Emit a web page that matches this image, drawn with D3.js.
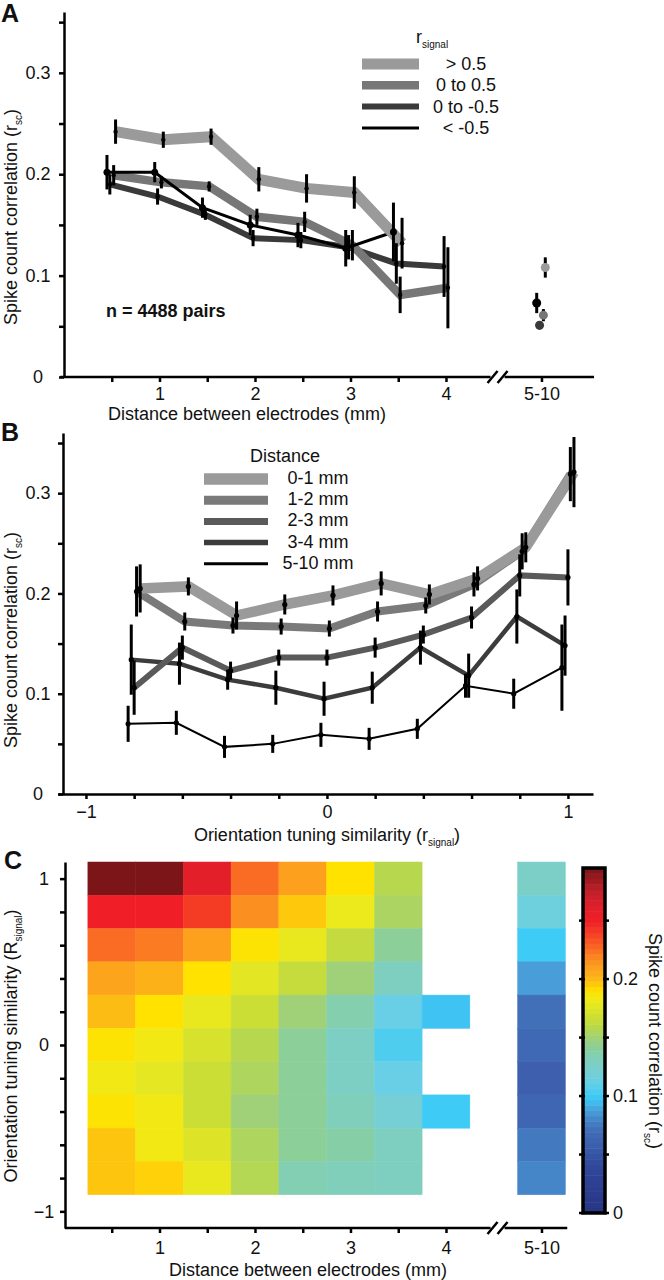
<!DOCTYPE html>
<html><head><meta charset="utf-8">
<script src="https://cdn.jsdelivr.net/npm/d3@7"></script>
<style>
body{margin:0;background:#fff;}
text{font-family:"Liberation Sans",Arial,Helvetica,sans-serif;fill:#111;}
</style></head><body>
<svg id="chart" width="664" height="1280"></svg>
<script>
// ================= DATA =================
// Panel A: rsc vs distance, grouped by r_signal
const distA = [0.5, 1, 1.5, 2, 2.5, 3, 3.5, 4];
const groupsA = ["> 0.5", "0 to 0.5", "0 to -0.5", "< -0.5"];
const rscA_high = [0.242, 0.234, 0.237, 0.195, 0.186, 0.182, 0.132, null];
const errA_high = [0.012, 0.008, 0.008, 0.012, 0.014, 0.016, 0.025, null];
const rscA_pos  = [0.199, 0.192, 0.188, 0.158, 0.153, 0.130, 0.081, 0.088];
const errA_pos  = [0.010, 0.006, 0.005, 0.008, 0.010, 0.015, 0.018, 0.040];
const rscA_neg  = [0.190, 0.178, 0.160, 0.137, 0.135, 0.128, 0.112, 0.109];
const errA_neg  = [0.010, 0.008, 0.005, 0.008, 0.008, 0.012, 0.020, 0.030];
const rscA_low  = [0.202, 0.202, 0.167, 0.150, 0.140, 0.127, 0.143, null];
const errA_low  = [0.017, 0.010, 0.010, 0.010, 0.012, 0.018, 0.029, null];
const farA      = [0.108, 0.061, 0.051, 0.073];   // 5-10 mm
const farErrA   = [0.010, 0.006, 0.004, 0.010];
const xTicksA   = [0.5, 1, 1.5, 2, 2.5, 3, 3.5, 4, 5];
const xLabelsA  = {1: "1", 2: "2", 3: "3", 4: "4", 5: "5-10"};
const yTicksRsc = [0, 0.05, 0.1, 0.15, 0.2, 0.25, 0.3, 0.35];
const yLabelsRsc = {"0": "0", "0.1": "0.1", "0.2": "0.2", "0.3": "0.3"};

// Panel B: rsc vs r_signal, grouped by distance
const rsigB = [-0.8, -0.6, -0.4, -0.2, 0, 0.2, 0.4, 0.6, 0.8, 1.0];
const groupsB = ["0-1 mm", "1-2 mm", "2-3 mm", "3-4 mm", "5-10 mm"];
const rscB_01  = [0.205, 0.207, 0.178, 0.189, 0.198, 0.210, 0.199, 0.215, 0.246, 0.321];
const errB_01  = [0.024, 0.009, 0.014, 0.010, 0.010, 0.012, 0.010, 0.012, 0.015, 0.035];
const rscB_12  = [0.202, 0.172, 0.168, 0.167, 0.165, 0.182, 0.188, 0.209, 0.242, 0.319];
const errB_12  = [0.025, 0.009, 0.008, 0.008, 0.008, 0.010, 0.008, 0.012, 0.018, 0.027];
const rscB_23  = [0.106, 0.146, 0.123, 0.136, 0.136, 0.146, 0.159, 0.176, 0.218, 0.216];
const errB_23  = [0.027, 0.012, 0.009, 0.008, 0.008, 0.010, 0.009, 0.011, 0.021, 0.028];
const rscB_34  = [0.134, 0.130, 0.114, 0.106, 0.095, 0.106, 0.146, 0.118, 0.177, 0.148];
const errB_34  = [0.035, 0.021, 0.010, 0.017, 0.017, 0.016, 0.017, 0.022, 0.027, 0.030];
const rscB_510 = [0.070, 0.071, 0.047, 0.050, 0.059, 0.055, 0.065, 0.108, 0.100, 0.126];
const errB_510 = [0.018, 0.012, 0.011, 0.009, 0.012, 0.011, 0.010, 0.012, 0.015, 0.043];
const xTicksB  = [-1, -0.8, -0.6, -0.4, -0.2, 0, 0.2, 0.4, 0.6, 0.8, 1];
const xLabelsB = {"-1": "\u22121", "0": "0", "1": "1"};

// Panel C: heat map rsc (rows: r_signal, cols: distance mm)
const heatRows = [1, 0.8, 0.6, 0.4, 0.2, 0, -0.2, -0.4, -0.6, -0.8];
const heatCols = [0.5, 1, 1.5, 2, 2.5, 3, 3.5, 4];
const heatValues = [
  [0.295, 0.295, 0.260, 0.226, 0.210, 0.190, 0.158, null],
  [0.250, 0.250, 0.240, 0.216, 0.196, 0.181, 0.154, null],
  [0.226, 0.222, 0.210, 0.189, 0.180, 0.163, 0.142, null],
  [0.208, 0.203, 0.190, 0.177, 0.164, 0.150, 0.130, null],
  [0.199, 0.190, 0.180, 0.167, 0.150, 0.136, 0.112, 0.097],
  [0.189, 0.184, 0.172, 0.158, 0.142, 0.128, 0.105, null],
  [0.184, 0.178, 0.167, 0.155, 0.142, 0.128, 0.112, null],
  [0.189, 0.184, 0.167, 0.150, 0.142, 0.132, 0.120, 0.100],
  [0.197, 0.184, 0.175, 0.155, 0.142, 0.138, 0.130, null],
  [0.197, 0.194, 0.180, 0.157, 0.134, 0.132, 0.130, null]
];
const heatFar = [0.127, 0.116, 0.100, 0.087, 0.071, 0.067, 0.058, 0.064, 0.075, 0.080];
const yTicksC = [-1, -0.8, -0.6, -0.4, -0.2, 0, 0.2, 0.4, 0.6, 0.8, 1];
const yLabelsC = {"-1": "\u22121", "0": "0", "1": "1"};
const cbTicks = [0, 0.05, 0.1, 0.15, 0.2, 0.25];
const cbLabels = {"0": "0", "0.1": "0.1", "0.2": "0.2"};
// colour map (muted jet)
const cmapStops  = [0, 0.04, 0.06, 0.07, 0.08, 0.088, 0.095, 0.1, 0.112, 0.122, 0.13, 0.14, 0.15, 0.16, 0.172, 0.182, 0.19, 0.2, 0.21, 0.218, 0.228, 0.24, 0.25, 0.262, 0.275, 0.295];
const cmapColors = ["#283583", "#30479a", "#3e62b0", "#406cb6", "#4586c8", "#4aa0da", "#40bdf0", "#3ecbf5", "#68cfe6", "#78cfd0", "#7ecfc0", "#88cfa0", "#a0d178", "#bcd944", "#d6e22c", "#eeea1a", "#ffe200", "#fdb816", "#fca01e", "#fb8a20", "#fa6424", "#f43c25", "#f01f27", "#e0202a", "#c0202a", "#7b1518"];

// ================= DRAW =================
const svg = d3.select("#chart");
const FS = 18;
const key = v => String(Math.round(v * 100) / 100);

function styleAxis(g) {
  g.attr("font-size", FS).attr("font-family", null);
  g.selectAll(".domain, .tick line").attr("stroke", "#000").attr("stroke-width", 2.5);
  g.selectAll("text").attr("fill", "#111");
}
function breakMark(g, x, y) {
  g.append("rect").attr("x", x - 7).attr("y", y - 3).attr("width", 14).attr("height", 6).attr("fill", "#fff");
  [-5, 5].forEach(dx => g.append("line")
    .attr("x1", x + dx - 5).attr("y1", y + 6).attr("x2", x + dx + 5).attr("y2", y - 6)
    .attr("stroke", "#000").attr("stroke-width", 2.5));
}
function yLabel(x, y, main, sub, rot) {
  const t = svg.append("text").attr("transform", `translate(${x},${y}) rotate(${rot})`)
    .attr("text-anchor", "middle").attr("font-size", FS);
  t.append("tspan").text(main);
  t.append("tspan").attr("font-size", 10).attr("dy", 5).text(sub);
  t.append("tspan").attr("dy", -5).text(")");
}
function panelLetter(x, y, s) {
  svg.append("text").attr("x", x).attr("y", y).attr("font-size", 25).attr("font-weight", "bold").text(s);
}

// ---------- Panel A ----------
const xA = d3.scaleLinear([0, 5.55], [64, 594]);
const yA = d3.scaleLinear([0, 0.36], [377, 12]);
const gA = svg.append("g");

const seriesA = [
  {v: rscA_high, e: errA_high, color: "#9a9a9a", w: 11,  off: 0.04},
  {v: rscA_pos,  e: errA_pos,  color: "#777777", w: 8.5, off: 0.02},
  {v: rscA_neg,  e: errA_neg,  color: "#3a3a3a", w: 6,   off: -0.02},
  {v: rscA_low,  e: errA_low,  color: "#000000", w: 3,   off: -0.05}
];
const drawOrderA = [2, 1, 3, 0];
const lineA = d3.line().defined(d => d.v != null).x(d => xA(d.x)).y(d => yA(d.v));
drawOrderA.forEach(i => {
  const s = seriesA[i];
  const pts = distA.map((x, j) => ({x: x + s.off, v: s.v[j]}));
  gA.append("path").datum(pts).attr("d", lineA).attr("fill", "none")
    .attr("stroke", s.color).attr("stroke-width", s.w).attr("stroke-linejoin", "miter");
});
seriesA.forEach((s, i) => {
  distA.forEach((x, j) => {
    if (s.v[j] == null) return;
    gA.append("line").attr("x1", xA(x + s.off)).attr("x2", xA(x + s.off))
      .attr("y1", yA(s.v[j] - s.e[j])).attr("y2", yA(s.v[j] + s.e[j]))
      .attr("stroke", "#000").attr("stroke-width", 3);
    gA.append("circle").attr("cx", xA(x + s.off)).attr("cy", yA(s.v[j]))
      .attr("r", i === 3 ? 3.5 : 2.2).attr("fill", "#000");
  });
  const fx = xA(5 + s.off);
  gA.append("line").attr("x1", fx).attr("x2", fx)
    .attr("y1", yA(farA[i] - farErrA[i])).attr("y2", yA(farA[i] + farErrA[i]))
    .attr("stroke", "#000").attr("stroke-width", 3);
  gA.append("circle").attr("cx", fx).attr("cy", yA(farA[i])).attr("r", 4.5).attr("fill", s.color);
});

const axYA = gA.append("g").attr("transform", "translate(64,0)")
  .call(d3.axisLeft(yA).tickValues(yTicksRsc).tickSize(5).tickSizeOuter(0)
    .tickFormat(d => yLabelsRsc[key(d)] || ""));
styleAxis(axYA);
axYA.selectAll(".tick text").attr("text-anchor", "middle").attr("x", -26);
const axXA = gA.append("g").attr("transform", "translate(0,377)")
  .call(d3.axisBottom(xA).tickValues(xTicksA).tickSize(5).tickPadding(5).tickSizeOuter(0)
    .tickFormat(d => xLabelsA[d] || ""));
styleAxis(axXA);
axXA.select(".domain").attr("d", `M${xA(-0.04)},0H${xA(5.55)}`);
breakMark(axXA, xA(4.54), 0);
svg.append("text").attr("x", 247).attr("y", 420).attr("text-anchor", "middle").attr("font-size", FS)
  .text("Distance between electrodes (mm)");
yLabel(17, 217, "Spike count correlation (r", "sc", -90);
svg.append("text").attr("x", 106).attr("y", 317).attr("font-size", FS).attr("font-weight", "bold")
  .text("n = 4488 pairs");
panelLetter(1, 22, "A");

// legend A
const legA = svg.append("g");
const tA = legA.append("text").attr("x", 416).attr("y", 43).attr("font-size", FS);
tA.append("tspan").text("r");
tA.append("tspan").attr("font-size", 10).attr("dy", 5).text("signal");
groupsA.forEach((name, i) => {
  const y = 64 + i * 21.3;
  legA.append("line").attr("x1", 362).attr("x2", 419).attr("y1", y).attr("y2", y)
    .attr("stroke", seriesA[i].color).attr("stroke-width", seriesA[i].w);
  legA.append("text").attr("x", 466).attr("y", y + 6).attr("text-anchor", "middle")
    .attr("font-size", FS).text(name);
});

// ---------- Panel B ----------
const xB = d3.scaleLinear([-1.116, 1.104], [58, 593]);
const yB = d3.scaleLinear([0, 0.36], [794, 433]);
const gB = svg.append("g");
const seriesB = [
  {v: rscB_01,  e: errB_01,  color: "#9a9a9a", w: 10.5, off: 0.025},
  {v: rscB_12,  e: errB_12,  color: "#7a7a7a", w: 8,    off: 0.01},
  {v: rscB_23,  e: errB_23,  color: "#5a5a5a", w: 6,    off: 0.0},
  {v: rscB_34,  e: errB_34,  color: "#3c3c3c", w: 4.5,  off: -0.012},
  {v: rscB_510, e: errB_510, color: "#000000", w: 2,    off: -0.025}
];
const lineB = d3.line().x(d => xB(d.x)).y(d => yB(d.v));
[4, 3, 2, 1, 0].forEach(i => {
  const s = seriesB[i];
  const pts = rsigB.map((x, j) => ({x: x + s.off, v: s.v[j]}));
  gB.append("path").datum(pts).attr("d", lineB).attr("fill", "none")
    .attr("stroke", s.color).attr("stroke-width", s.w);
});
seriesB.forEach(s => {
  rsigB.forEach((x, j) => {
    gB.append("line").attr("x1", xB(x + s.off)).attr("x2", xB(x + s.off))
      .attr("y1", yB(s.v[j] - s.e[j])).attr("y2", yB(s.v[j] + s.e[j]))
      .attr("stroke", "#000").attr("stroke-width", 3);
    gB.append("circle").attr("cx", xB(x + s.off)).attr("cy", yB(s.v[j])).attr("r", 2.6).attr("fill", "#000");
  });
});
const axYB = gB.append("g").attr("transform", "translate(63,0)")
  .call(d3.axisLeft(yB).tickValues(yTicksRsc).tickSize(5).tickSizeOuter(0)
    .tickFormat(d => yLabelsRsc[key(d)] || ""));
styleAxis(axYB);
axYB.selectAll(".tick text").attr("text-anchor", "middle").attr("x", -25);
const axXB = gB.append("g").attr("transform", "translate(0,794)")
  .call(d3.axisBottom(xB).tickValues(xTicksB).tickSize(5).tickPadding(6).tickSizeOuter(0)
    .tickFormat(d => xLabelsB[key(d)] || ""));
styleAxis(axXB);
const tB = svg.append("text").attr("x", 327).attr("y", 841).attr("text-anchor", "middle").attr("font-size", FS);
tB.append("tspan").text("Orientation tuning similarity (r");
tB.append("tspan").attr("font-size", 10).attr("dy", 5).text("signal");
tB.append("tspan").attr("dy", -5).text(")");
yLabel(17, 640, "Spike count correlation (r", "sc", -90);
panelLetter(1, 441, "B");

// legend B
const legB = svg.append("g");
legB.append("text").attr("x", 250).attr("y", 462).attr("font-size", FS).text("Distance");
groupsB.forEach((name, i) => {
  const y = 479 + i * 21.2;
  legB.append("line").attr("x1", 204).attr("x2", 268).attr("y1", y).attr("y2", y)
    .attr("stroke", seriesB[i].color).attr("stroke-width", i === 4 ? 3 : seriesB[i].w + 1);
  legB.append("text").attr("x", 318).attr("y", y + 5).attr("text-anchor", "middle")
    .attr("font-size", FS).text(name);
});

// ---------- Panel C ----------
const xC = d3.scaleLinear([0, 5.55], [64, 594]);
const yC = d3.scaleLinear([-1.1, 1.1], [1228, 862]);
const color = d3.scaleLinear().domain(cmapStops).range(cmapColors).interpolate(d3.interpolateRgb).clamp(true);
const gC = svg.append("g");
function cell(cx, r, v) {
  gC.append("rect")
    .attr("x", xC(cx - 0.25)).attr("width", xC(cx + 0.25) - xC(cx - 0.25))
    .attr("y", yC(r + 0.1)).attr("height", yC(r - 0.1) - yC(r + 0.1))
    .attr("fill", color(v)).attr("stroke", color(v)).attr("stroke-width", 0.5);
}
heatValues.forEach((row, i) => row.forEach((v, j) => { if (v != null) cell(heatCols[j], heatRows[i], v); }));
heatFar.forEach((v, i) => cell(5, heatRows[i], v));

const axYC = gC.append("g").attr("transform", "translate(65,0)")
  .call(d3.axisLeft(yC).tickValues(yTicksC).tickSize(5).tickSizeOuter(0)
    .tickFormat(d => yLabelsC[key(d)] || ""));
styleAxis(axYC);
axYC.selectAll(".tick text").attr("text-anchor", "middle").attr("x", -21);
const axXC = gC.append("g").attr("transform", "translate(0,1228)")
  .call(d3.axisBottom(xC).tickValues(xTicksA).tickSize(5).tickPadding(8).tickSizeOuter(0)
    .tickFormat(d => xLabelsA[d] || ""));
styleAxis(axXC);
axXC.select(".domain").attr("d", `M${xC(0.01)},0H${xC(5.27)}`);
breakMark(axXC, xC(4.54), 0);
svg.append("text").attr("x", 308).attr("y", 1276).attr("text-anchor", "middle").attr("font-size", FS)
  .text("Distance between electrodes (mm)");
yLabel(17, 1046, "Orientation tuning similarity (R", "signal", -90);
panelLetter(4, 869, "C");

// colorbar
const yCB = d3.scaleLinear([0, 0.295], [1213, 868]);
const cb = svg.append("g");
const nb = 64;
d3.range(nb).forEach(k => {
  const v0 = k * 0.295 / nb, v1 = (k + 1) * 0.295 / nb;
  cb.append("rect").attr("x", 583).attr("width", 22)
    .attr("y", yCB(v1)).attr("height", yCB(v0) - yCB(v1) + 0.5)
    .attr("fill", color((v0 + v1) / 2));
});
cb.append("rect").attr("x", 583).attr("y", yCB(0.295)).attr("width", 22)
  .attr("height", yCB(0) - yCB(0.295)).attr("fill", "none").attr("stroke", "#000").attr("stroke-width", 3.5);
cbTicks.forEach(t => {
  cb.append("line").attr("x1", 579).attr("x2", 585).attr("y1", yCB(t)).attr("y2", yCB(t)).attr("stroke", "#000").attr("stroke-width", 2.5);
  cb.append("line").attr("x1", 603).attr("x2", 609).attr("y1", yCB(t)).attr("y2", yCB(t)).attr("stroke", "#000").attr("stroke-width", 2.5);
  if (cbLabels[key(t)]) cb.append("text").attr("x", 613).attr("y", yCB(t)).attr("dy", "0.35em")
    .attr("font-size", FS).text(cbLabels[key(t)]);
});
yLabel(649, 1041, "Spike count correlation (r", "sc", 90);
</script>
</body></html>
